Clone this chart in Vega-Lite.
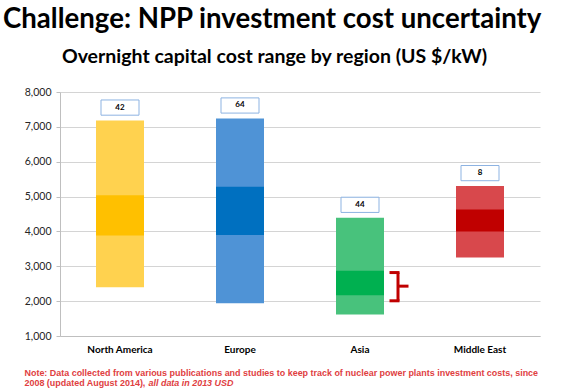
{
  "$schema": "https://vega.github.io/schema/vega-lite/v6.json",
  "width": 480,
  "height": 244,
  "autosize": {"type": "none"},
  "padding": {"left": 60, "top": 92, "right": 30, "bottom": 54},
  "background": "white",
  "title": {
    "text": "Challenge: NPP investment cost uncertainty",
    "anchor": "start",
    "frame": "group",
    "dx": -57,
    "dy": -4,
    "font": "Lato",
    "fontSize": 27.6,
    "fontWeight": "bold",
    "color": "#000000",
    "offset": 8
  },
  "config": {
    "view": {"stroke": null},
    "axisY": {
      "labelFont": "Lato",
      "labelFontSize": 10.5,
      "labelColor": "#262626",
      "gridColor": "#D4D4D4",
      "gridWidth": 1.2,
      "domainColor": "#BFBFBF",
      "tickColor": "#BFBFBF",
      "tickSize": 4,
      "labelPadding": 5,
      "tickCount": 10,
      "labelOverlap": false
    }
  },
  "datasets": {
    "ranges": [
      {"region": "North America", "low": 2400, "high": 7180, "core_low": 3880, "core_high": 5040, "n": 42},
      {"region": "Europe", "low": 1940, "high": 7240, "core_low": 3900, "core_high": 5280, "n": 64},
      {"region": "Asia", "low": 1620, "high": 4390, "core_low": 2170, "core_high": 2870, "n": 44},
      {"region": "Middle East", "low": 3250, "high": 5300, "core_low": 4000, "core_high": 4630, "n": 8}
    ],
    "bracket": [
      {"region": "Asia", "lo": 2010, "mid": 2430, "hi": 2820}
    ]
  },
  "resolve": {"scale": {"color": "independent"}, "axis": {"x": "independent"}},
  "layer": [
    {
      "data": {"name": "ranges"},
      "mark": {"type": "bar", "width": {"band": 0.4}},
      "encoding": {
        "x": {
          "field": "region", "type": "nominal", "sort": null,
          "scale": {"domain": ["North America", "Europe", "Asia", "Middle East"], "paddingInner": 0, "paddingOuter": 0},
          "axis": {
            "orient": "bottom",
            "labelAngle": 0,
            "labelFont": "Lato",
            "labelFontSize": 10,
            "labelFontWeight": "bold",
            "labelColor": "#000000",
            "labelPadding": 8,
            "ticks": false,
            "domainColor": "#BFBFBF",
            "title": ["Note: Data collected from various publications and studies to keep track of nuclear power plants investment costs, since", "2008 (updated August 2014), "],
            "titleFont": "Liberation Sans",
            "titleFontSize": 8.95,
            "titleFontWeight": "bold",
            "titleColor": "#E0403F",
            "titleAlign": "left",
            "titleBaseline": "alphabetic",
            "titleLineHeight": 10,
            "titleX": -36,
            "titleY": 39
          }
        },
        "y": {
          "field": "low", "type": "quantitative", "title": null,
          "scale": {"domain": [1000, 8000], "nice": false, "zero": false},
          "axis": {"values": [1000, 2000, 3000, 4000, 5000, 6000, 7000, 8000], "format": ",d", "tickCount": 10, "labelOverlap": false}
        },
        "y2": {"field": "high"},
        "color": {
          "field": "region", "type": "nominal", "legend": null,
          "scale": {"domain": ["North America", "Europe", "Asia", "Middle East"], "range": ["#FFD24F", "#4F93D6", "#48C27C", "#D8484C"]}
        }
      }
    },
    {
      "data": {"name": "ranges"},
      "mark": {"type": "bar", "width": {"band": 0.4}},
      "encoding": {
        "x": {
          "field": "region", "type": "nominal", "sort": null,
          "axis": {
            "orient": "top",
            "labels": false, "ticks": false, "domain": false, "grid": false,
            "title": "Overnight capital cost range by region (US $/kW)",
            "titleFont": "Lato",
            "titleFontSize": 19.5,
            "titleFontWeight": "bold",
            "titleColor": "#000000",
            "titleAlign": "center",
            "titleBaseline": "alphabetic",
            "titleX": 214,
            "titleY": -30
          }
        },
        "y": {"field": "core_low", "type": "quantitative", "title": null},
        "y2": {"field": "core_high"},
        "color": {
          "field": "region", "type": "nominal", "legend": null,
          "scale": {"domain": ["North America", "Europe", "Asia", "Middle East"], "range": ["#FFC000", "#0070C0", "#00B050", "#C00000"]}
        }
      }
    },
    {
      "data": {"name": "ranges"},
      "mark": {
        "type": "point",
        "shape": "M-1,-0.4L1,-0.4L1,0.4L-1,0.4Z",
        "size": 1444,
        "filled": true,
        "fill": "#FFFFFF",
        "stroke": "#8DB3E2",
        "strokeWidth": 1,
        "opacity": 1,
        "yOffset": -13
      },
      "encoding": {
        "x": {
          "field": "region", "type": "nominal", "sort": null,
          "axis": {
            "orient": "bottom",
            "labels": false, "ticks": false, "domain": false, "grid": false,
            "title": "all data in 2013 USD",
            "titleFont": "Liberation Sans",
            "titleFontSize": 8.95,
            "titleFontWeight": "bold",
            "titleFontStyle": "italic",
            "titleColor": "#E0403F",
            "titleAlign": "left",
            "titleBaseline": "alphabetic",
            "titleX": 88,
            "titleY": 49
          }
        },
        "y": {"field": "high", "type": "quantitative", "title": null}
      }
    },
    {
      "data": {"name": "ranges"},
      "mark": {"type": "text", "font": "Lato", "fontSize": 8, "fontWeight": "bold", "color": "#000000", "baseline": "middle", "yOffset": -13},
      "encoding": {
        "x": {"field": "region", "type": "nominal", "sort": null, "axis": null},
        "y": {"field": "high", "type": "quantitative", "title": null},
        "text": {"field": "n", "type": "quantitative"}
      }
    },
    {
      "data": {"name": "bracket"},
      "mark": {"type": "rule", "color": "#C00000", "strokeWidth": 3, "xOffset": 38},
      "encoding": {
        "x": {"field": "region", "type": "nominal", "sort": null, "axis": null},
        "y": {"field": "lo", "type": "quantitative", "title": null},
        "y2": {"field": "hi"}
      }
    },
    {
      "data": {"name": "bracket"},
      "mark": {"type": "tick", "color": "#C00000", "thickness": 3, "size": 10, "xOffset": 34.5, "opacity": 1},
      "encoding": {
        "x": {"field": "region", "type": "nominal", "sort": null, "axis": null},
        "y": {"field": "lo", "type": "quantitative", "title": null}
      }
    },
    {
      "data": {"name": "bracket"},
      "mark": {"type": "tick", "color": "#C00000", "thickness": 3, "size": 10, "xOffset": 34.5, "opacity": 1},
      "encoding": {
        "x": {"field": "region", "type": "nominal", "sort": null, "axis": null},
        "y": {"field": "hi", "type": "quantitative", "title": null}
      }
    },
    {
      "data": {"name": "bracket"},
      "mark": {"type": "tick", "color": "#C00000", "thickness": 3, "size": 10, "xOffset": 43.5, "opacity": 1},
      "encoding": {
        "x": {"field": "region", "type": "nominal", "sort": null, "axis": null},
        "y": {"field": "mid", "type": "quantitative", "title": null}
      }
    }
  ]
}
